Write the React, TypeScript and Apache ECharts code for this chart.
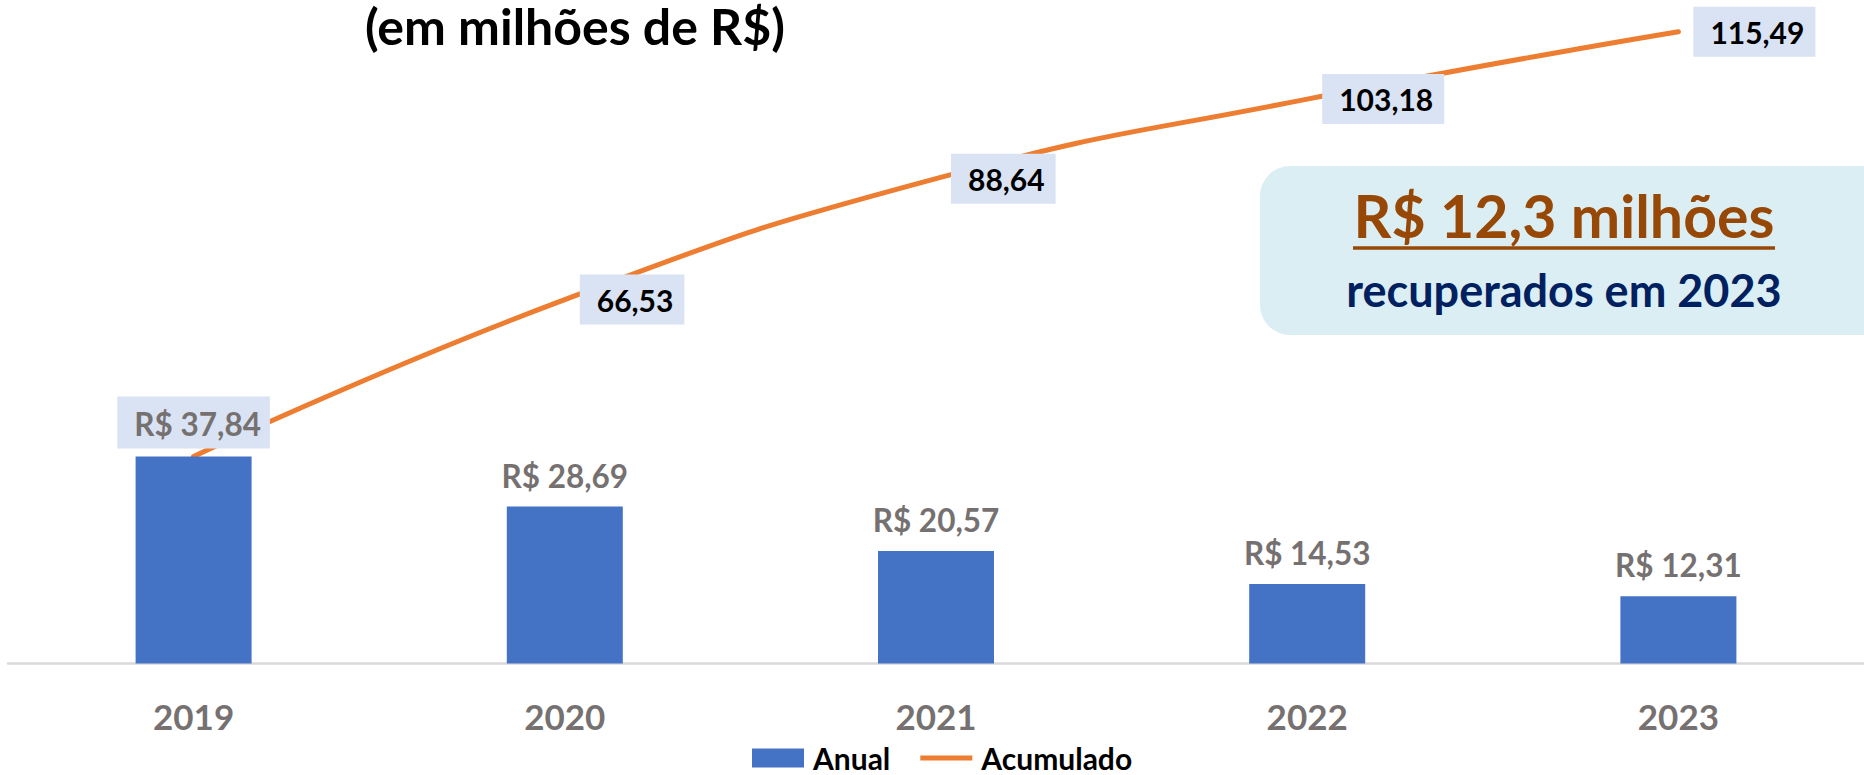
import React, { useEffect, useRef } from "react";
import * as echarts from "echarts";

const years = ["2019", "2020", "2021", "2022", "2023"];
const anual = [37.84, 28.69, 20.57, 14.53, 12.31];
const acumulado = [37.84, 66.53, 88.64, 103.18, 115.49];
const seriesNames = ["Anual", "Acumulado"];
const titleText = "(em milhões de R$)";
const calloutMain = "R$ 12,3 milhões";
const calloutSub = "recuperados em 2023";

const FONT = "Lato";
const fmt = (v: number) => v.toFixed(2).replace(".", ",");

export default function App() {
  const ref = useRef<HTMLDivElement>(null);
  useEffect(() => {
    if (!ref.current) return;
    const chart = echarts.init(ref.current, null, { renderer: "svg" });
    const barData = anual.map((v, i) =>
      i === 0
        ? {
            value: v,
            label: {
              backgroundColor: "#dae3f3",
              padding: [11, 9, 9, 17],
              distance: 8,
            },
          }
        : v
    );
    const lineData = acumulado.map((v, i) =>
      i === 0 ? { value: v, label: { show: false } } : v
    );
    chart.setOption({
      animation: false,
      textStyle: { fontFamily: FONT },
      grid: { left: 8, width: 1863, top: 7.1, bottom: 111.5 },
      xAxis: {
        type: "category",
        data: years,
        axisTick: { show: false },
        axisLine: { lineStyle: { color: "#d9d9d9", width: 2.5 } },
        axisLabel: {
          color: "#767171",
          fontWeight: "bold",
          fontSize: 35,
          fontFamily: FONT,
          margin: 35,
        },
      },
      yAxis: {
        type: "value",
        min: 0,
        max: 120,
        show: false,
        splitLine: { show: false },
      },
      legend: {
        left: 747,
        top: 738,
        itemWidth: 52,
        itemHeight: 19,
        itemGap: 30,
        textStyle: {
          fontFamily: FONT,
          fontSize: 30,
          fontWeight: "bold",
          color: "#000000",
          padding: [0, 0, 0, 4],
        },
        data: [
          { name: seriesNames[0], icon: "rect" },
          {
            name: seriesNames[1],
            icon: "path://M0,0 M0,7 L52,7 L52,12 L0,12 Z M52,19",
          },
        ],
      },
      series: [
        {
          name: seriesNames[0],
          type: "bar",
          data: barData,
          barWidth: 116,
          z: 2,
          itemStyle: { color: "#4472c4" },
          label: {
            show: true,
            position: "top",
            distance: 15,
            color: "#767171",
            fontWeight: "bold",
            fontSize: 31.5,
            fontFamily: FONT,
            formatter: (p: any) => "R$ " + fmt(p.value),
          },
        },
        {
          name: seriesNames[1],
          type: "line",
          data: lineData,
          smooth: 0.5,
          z: 1,
          symbol: "circle",
          symbolSize: 2,
          showSymbol: true,
          itemStyle: { color: "#ed7d31" },
          lineStyle: { color: "#ed7d31", width: 5, cap: "round" },
          label: {
            show: true,
            position: "right",
            distance: 14,
            color: "#000000",
            fontWeight: "bold",
            fontSize: 30,
            fontFamily: FONT,
            backgroundColor: "#dae3f3",
            padding: [10, 11, 10, 17],
            formatter: (p: any) => fmt(p.value),
          },
        },
      ],
      graphic: [
        {
          type: "text",
          style: {
            text: titleText,
            x: 575,
            y: 26,
            align: "center",
            verticalAlign: "middle",
            lineHeight: 48,
            fontFamily: FONT,
            fontSize: 50,
            fontWeight: "bold",
            fill: "#000000",
          },
        },
        {
          type: "rect",
          shape: { x: 1260, y: 166, width: 640, height: 169, r: 30 },
          style: { fill: "#daeef3" },
          z: 0,
        },
        {
          type: "text",
          style: {
            text: calloutMain,
            x: 1564,
            y: 215,
            align: "center",
            verticalAlign: "middle",
            fontFamily: FONT,
            fontSize: 59,
            fontWeight: "bold",
            fill: "#974806",
          },
          z: 10,
        },
        {
          type: "line",
          shape: { x1: 1353, y1: 248, x2: 1775, y2: 248 },
          style: { stroke: "#974806", lineWidth: 3.5 },
          z: 10,
        },
        {
          type: "text",
          style: {
            text: calloutSub,
            x: 1564,
            y: 290,
            align: "center",
            verticalAlign: "middle",
            fontFamily: FONT,
            fontSize: 45,
            fontWeight: "bold",
            fill: "#002060",
          },
          z: 10,
        },
      ],
    });
    return () => chart.dispose();
  }, []);
  return (
    <div
      ref={ref}
      style={{ position: "absolute", left: 0, top: 0, width: 1864, height: 775 }}
    />
  );
}
